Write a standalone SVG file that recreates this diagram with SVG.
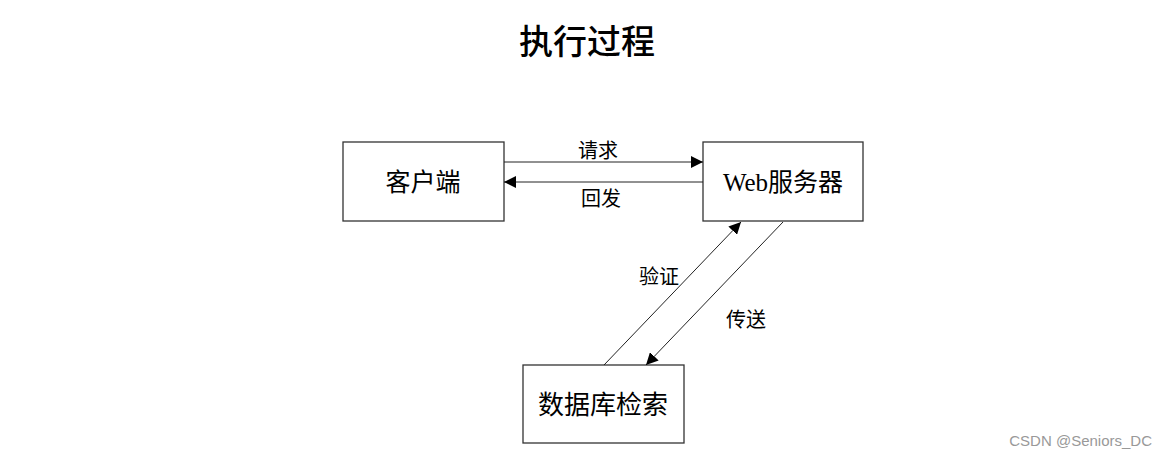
<svg xmlns="http://www.w3.org/2000/svg" width="1166" height="457" viewBox="0 0 1166 457">
<style>
.box{fill:#fff;stroke:#333;stroke-width:1.3}
.t{font-family:"Liberation Serif","Noto Sans CJK SC",serif;fill:#000;text-anchor:middle}
.lbl{font-size:20px}
.nt{font-size:25px}
.ln{stroke:#222;stroke-width:1;fill:none;marker-end:url(#ah)}
</style>
<defs>
<marker id="ah" viewBox="0 0 10 10" refX="10" refY="5" markerWidth="12" markerHeight="12" markerUnits="userSpaceOnUse" orient="auto">
<path d="M0,0 L10,5 L0,10 Z" fill="#000"/>
</marker>
</defs>
<rect width="1166" height="457" fill="#fff"/>
<text class="t" x="587" y="54" font-size="34" font-weight="500">执行过程</text>
<g id="client"><rect class="box" x="343" y="142" width="161" height="79"/><text class="t nt" x="423" y="191">客户端</text></g>
<g id="web"><rect class="box" x="703" y="142" width="160" height="79"/><text class="t nt" x="783" y="191">Web服务器</text></g>
<g id="db"><rect class="box" x="523" y="365" width="161" height="78"/><text class="t" font-size="26" x="603" y="414">数据库检索</text></g>
<g id="connectors">
<line class="ln" x1="504" y1="162" x2="703" y2="162"/>
<line class="ln" x1="703" y1="182" x2="504" y2="182"/>
<line class="ln" x1="604" y1="365" x2="741" y2="222"/>
<line class="ln" x1="783" y1="222" x2="646" y2="365"/>
<text class="t lbl" x="598" y="158">请求</text>
<text class="t lbl" x="601" y="206">回发</text>
<text class="t lbl" x="659" y="284">验证</text>
<text class="t lbl" x="746" y="327">传送</text>
</g>
<text x="1152" y="446" font-family="Liberation Sans,Arial,sans-serif" font-size="15" fill="#999" text-anchor="end">CSDN @Seniors_DC</text>
</svg>
